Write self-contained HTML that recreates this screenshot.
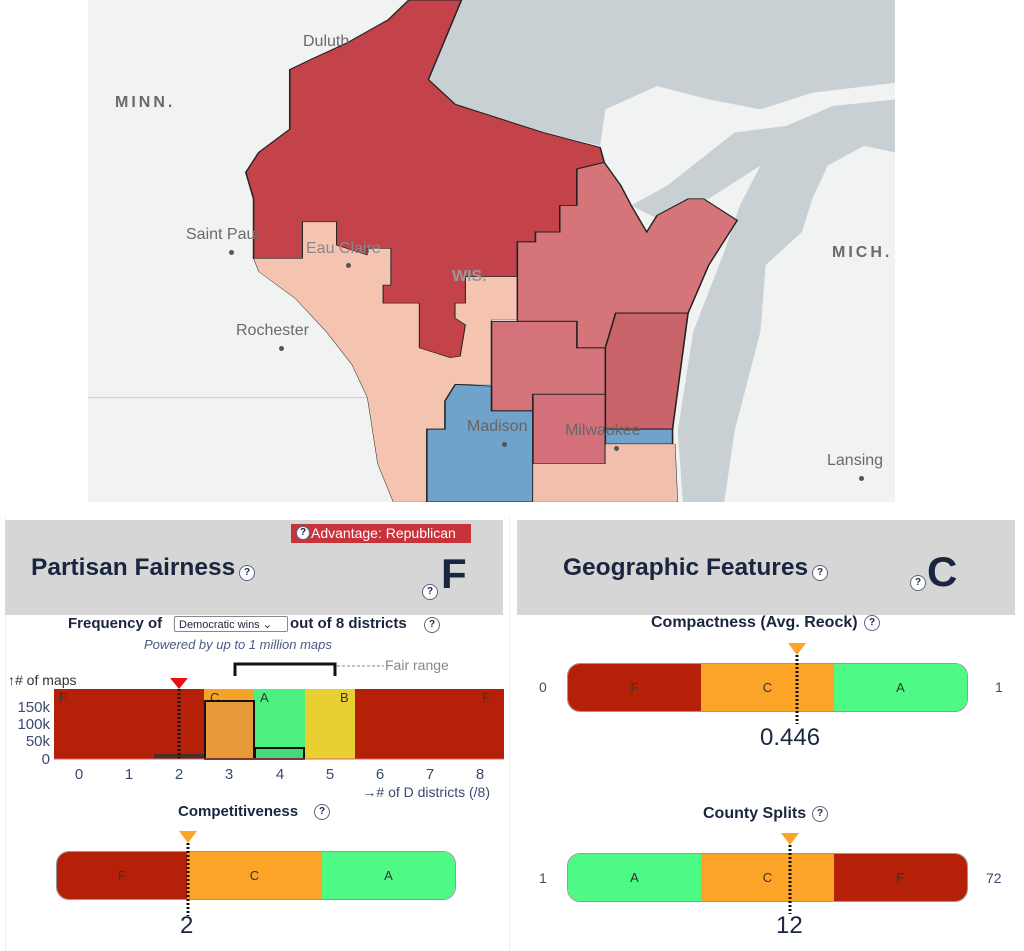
<!DOCTYPE html>
<html><head><meta charset="utf-8"><style>
body{margin:0;width:1024px;height:951px;background:#fff;position:relative;overflow:hidden;font-family:"Liberation Sans",sans-serif;color:#1a2540}
.a{position:absolute}
.q{position:absolute;width:14px;height:14px;border:1.5px solid #5a6680;border-radius:50%;font-size:10px;font-weight:bold;text-align:center;line-height:14px;background:#fff;color:#1a2540}
.hdr{position:absolute;background:#d6d6d6;top:520px;height:95px}
.t{position:absolute;font-weight:bold;white-space:nowrap}
.bar{position:absolute;height:47px;border:1px solid #999;border-radius:13px;overflow:hidden;display:flex}
.bar div{height:100%;text-align:center;line-height:47px;font-size:13px;color:#333}
.ml{position:absolute;font-size:16px;color:#6a6a6a;white-space:nowrap}
.dot{position:absolute;width:5px;height:5px;border-radius:50%;background:#555}
</style></head><body>
<svg class="a" style="left:88px;top:0" width="807" height="502" viewBox="0 0 1560 1515" preserveAspectRatio="none">
<rect width="1560" height="1515" fill="#f1f2f2"/>
<polygon fill="#c9d0d4" points="722,0 1560,0 1560,250 1400,280 1300,330 1200,300 1100,260 1000,330 990,440 880,400 710,315 658,240"/>
<polygon fill="#c9d0d4" points="1050,620 1120,560 1250,400 1350,380 1440,320 1560,300 1560,460 1500,440 1430,500 1400,600 1380,700 1310,800 1300,1000 1250,1300 1230,1515 1150,1515 1140,1300 1170,1000 1230,760 1260,620 1300,500 1200,600 1100,660"/>
<line x1="0" y1="1200" x2="560" y2="1200" stroke="#ccc" stroke-width="3"/>
<g stroke="#222" stroke-width="3">
<polygon fill="#c4434a" points="620,0 722,0 658,240 710,315 880,400 990,445 998,490 945,510 945,620 912,620 912,700 865,700 865,730 830,730 830,835 730,835 730,915 710,915 710,960 730,980 720,1075 700,1080 640,1050 640,915 570,915 570,860 585,860 585,750 540,750 540,770 480,740 480,670 415,670 415,780 320,780 320,600 305,520 330,460 390,390 390,210 430,180 500,130 580,60"/>
<polygon fill="#f5c4b0" stroke-width="1" points="320,780 415,780 415,670 480,670 480,740 540,770 540,750 585,750 585,860 570,860 570,915 640,915 640,1050 700,1080 720,1075 730,980 710,960 710,915 730,915 730,835 830,835 830,965 780,965 780,1160 710,1160 690,1210 690,1295 655,1295 655,1515 590,1515 560,1400 540,1200 510,1100 460,1000 400,900 330,820"/>
<polygon fill="#d5757a" points="945,510 998,490 1030,560 1050,620 1080,700 1100,650 1160,600 1190,600 1255,665 1200,800 1160,945 1020,945 1000,1050 945,1050 945,970 830,970 830,730 865,730 865,700 912,700 912,620 945,620"/>
<polygon fill="#c9646a" points="1020,945 1160,945 1130,1295 1000,1295 1000,1050"/>
<polygon fill="#d4747a" points="780,970 945,970 945,1050 1000,1050 1000,1190 860,1190 860,1240 780,1240 780,1165"/>
<polygon fill="#6fa3cb" points="710,1160 780,1165 780,1240 860,1240 860,1515 655,1515 655,1295 690,1295 690,1210"/>
<polygon fill="#d4707a" points="860,1190 1000,1190 1000,1400 860,1400"/>
<polygon fill="#6fa3cb" points="1000,1295 1130,1295 1130,1340 1000,1340"/>
<polygon fill="#f0bfae" stroke-width="1" points="860,1400 1000,1400 1000,1340 1135,1340 1140,1515 860,1515"/>
</g>
</svg>
<div class="ml" style="left:303px;top:33px">Duluth</div>
<div class="ml" style="left:115px;top:94px;font-weight:bold;letter-spacing:3px">MINN.</div>
<div class="ml" style="left:186px;top:226px">Saint Paul</div>
<div class="ml" style="left:306px;top:240px;color:#888">Eau Claire</div>
<div class="ml" style="left:236px;top:322px">Rochester</div>
<div class="ml" style="left:452px;top:268px;font-weight:bold;color:#999">WIS.</div>
<div class="ml" style="left:467px;top:418px;color:#666">Madison</div>
<div class="ml" style="left:565px;top:422px;color:#666">Milwaukee</div>
<div class="ml" style="left:832px;top:244px;font-weight:bold;letter-spacing:3px">MICH.</div>
<div class="ml" style="left:827px;top:452px">Lansing</div>
<div class="dot" style="left:229px;top:250px"></div><div class="dot" style="left:346px;top:263px"></div><div class="dot" style="left:279px;top:346px"></div><div class="dot" style="left:502px;top:442px"></div><div class="dot" style="left:614px;top:446px"></div><div class="dot" style="left:859px;top:476px"></div>

<!-- left panel -->
<div class="a" style="left:5px;top:517px;width:503px;height:434px;background:#fff;border-left:1px solid #eee;border-right:1px solid #eee"></div>
<div class="hdr" style="left:5px;width:498px"></div>
<div class="a" style="left:291px;top:524px;width:180px;height:19px;background:#c8323a;color:#fff;font-size:14px;line-height:19px;padding-left:20px;box-sizing:border-box">Advantage: Republican</div>
<div class="q" style="left:296px;top:526px;width:12px;height:12px;line-height:12px">?</div>
<div class="t" style="left:31px;top:554px;font-size:24.5px">Partisan Fairness</div>
<div class="q" style="left:239px;top:565px">?</div>
<div class="t" style="left:441px;top:550px;font-size:42px">F</div>
<div class="q" style="left:422px;top:584px">?</div>

<div class="t" style="left:68px;top:615px;font-size:15px">Frequency of</div>
<div class="a" style="left:174px;top:616px;width:114px;height:16px;border:1px solid #888;font-size:11px;line-height:16px;padding-left:4px;box-sizing:border-box;border-radius:2px">Democratic wins ⌄</div>
<div class="t" style="left:290px;top:615px;font-size:15px">out of 8 districts</div>
<div class="q" style="left:424px;top:617px">?</div>
<div class="a" style="left:144px;top:637px;font-size:13px;font-style:italic;color:#4a5a80">Powered by up to 1 million maps</div>

<svg class="a" style="left:0;top:655px" width="508" height="145">
<path d="M235 21 V9 H335 V21" fill="none" stroke="#111" stroke-width="3"/>
<line x1="337" y1="11" x2="384" y2="11" stroke="#888" stroke-dasharray="3,2"/>
<text x="385" y="15" font-size="14" fill="#888" font-family="Liberation Sans">Fair range</text>
<text x="8" y="30" font-size="14" fill="#333" font-family="Liberation Sans">↑# of maps</text>
<rect x="54" y="34" width="450" height="70" fill="#b52008"/>
<rect x="204" y="34" width="50" height="70" fill="#f7a328"/>
<rect x="254" y="34" width="51" height="70" fill="#4df07f"/>
<rect x="305" y="34" width="50" height="70" fill="#e8cf32"/>
<g font-family="Liberation Sans" font-size="13" fill="#333"><text x="59" y="47">F</text><text x="210" y="47">C</text><text x="260" y="47">A</text><text x="340" y="47">B</text><text x="482" y="47">F</text></g>
<rect x="154" y="99" width="50" height="5" fill="#333" opacity=".8"/>
<rect x="205" y="46" width="49" height="58" fill="#e89a3a" stroke="#111" stroke-width="2"/>
<rect x="255" y="93" width="49" height="11" fill="#4ad77a" stroke="#111" stroke-width="2"/>
<line x1="179" y1="34" x2="179" y2="104" stroke="#111" stroke-width="3" stroke-dasharray="2,2"/>
<polygon points="170,23 188,23 179,34" fill="#e81010"/>
<g font-family="Liberation Sans" font-size="15" fill="#3a4a70" text-anchor="end"><text x="50" y="109">0</text><text x="50" y="91">50k</text><text x="50" y="74">100k</text><text x="50" y="57">150k</text></g>
<line x1="54" y1="104" x2="504" y2="104" stroke="#e06060"/>
<g font-family="Liberation Sans" font-size="15" fill="#3a4a70" text-anchor="middle">
<text x="79" y="124">0</text><text x="129" y="124">1</text><text x="179" y="124">2</text><text x="229" y="124">3</text><text x="280" y="124">4</text><text x="330" y="124">5</text><text x="380" y="124">6</text><text x="430" y="124">7</text><text x="480" y="124">8</text>
<text x="490" y="142" font-size="14" text-anchor="end">→# of D districts (/8)</text></g>
</svg>

<div class="t" style="left:178px;top:803px;font-size:15px">Competitiveness</div>
<div class="q" style="left:314px;top:804px">?</div>
<div class="bar" style="left:56px;top:851px;width:398px"><div style="width:130px;background:#b52008">F</div><div style="width:135px;background:#fba428">C</div><div style="flex:1;background:#4ef985">A</div></div>
<svg class="a" style="left:178px;top:830px" width="20" height="90"><polygon points="1,1 19,1 10,13" fill="#fba428"/><line x1="10" y1="13" x2="10" y2="86" stroke="#111" stroke-width="3" stroke-dasharray="2,2"/></svg>
<div class="a" style="left:180px;top:912px;font-size:24px;color:#1a2540">2</div>

<!-- right panel -->
<div class="hdr" style="left:517px;width:498px"></div>
<div class="t" style="left:563px;top:554px;font-size:24.5px">Geographic Features</div>
<div class="q" style="left:812px;top:565px">?</div>
<div class="t" style="left:927px;top:548px;font-size:42px">C</div>
<div class="q" style="left:910px;top:575px">?</div>

<div class="t" style="left:651px;top:614px;font-size:16px">Compactness (Avg. Reock)</div>
<div class="q" style="left:864px;top:615px">?</div>
<div class="a" style="left:539px;top:679px;font-size:14px;color:#3a4a70">0</div>
<div class="a" style="left:995px;top:679px;font-size:14px;color:#3a4a70">1</div>
<div class="bar" style="left:567px;top:663px;width:399px"><div style="width:133px;background:#b52008">F</div><div style="width:133px;background:#fba428">C</div><div style="flex:1;background:#4ef985">A</div></div>
<svg class="a" style="left:787px;top:642px" width="20" height="85"><polygon points="1,1 19,1 10,13" fill="#fba428"/><line x1="10" y1="13" x2="10" y2="82" stroke="#111" stroke-width="3" stroke-dasharray="2,2"/></svg>
<div class="a" style="left:760px;top:724px;font-size:24px;color:#1a2540">0.446</div>

<div class="t" style="left:703px;top:805px;font-size:16px">County Splits</div>
<div class="q" style="left:812px;top:806px">?</div>
<div class="a" style="left:539px;top:870px;font-size:14px;color:#3a4a70">1</div>
<div class="a" style="left:986px;top:870px;font-size:14px;color:#3a4a70">72</div>
<div class="bar" style="left:567px;top:853px;width:399px"><div style="width:133px;background:#4ef985">A</div><div style="width:133px;background:#fba428">C</div><div style="flex:1;background:#b52008">F</div></div>
<svg class="a" style="left:780px;top:832px" width="20" height="85"><polygon points="1,1 19,1 10,13" fill="#fba428"/><line x1="10" y1="13" x2="10" y2="82" stroke="#111" stroke-width="3" stroke-dasharray="2,2"/></svg>
<div class="a" style="left:776px;top:912px;font-size:24px;color:#1a2540">12</div>
</body></html>
